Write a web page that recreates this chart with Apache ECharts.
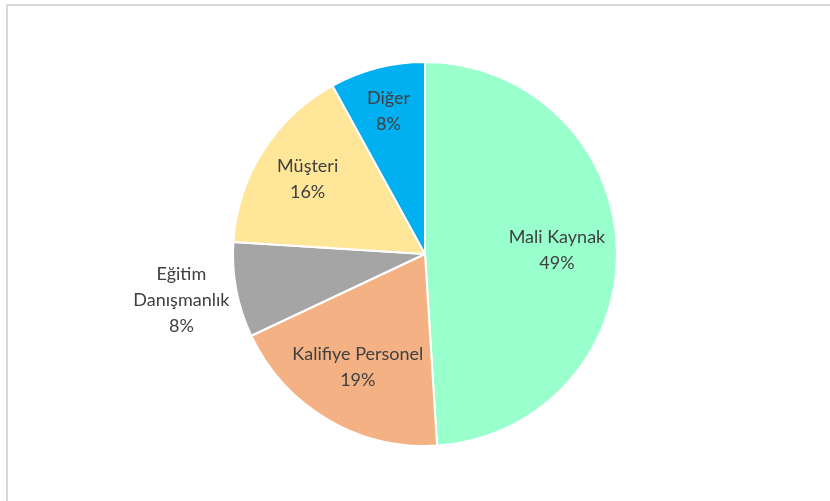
<!DOCTYPE html>
<html>
<head>
<meta charset="utf-8">
<script src="https://cdn.jsdelivr.net/npm/echarts@6/dist/echarts.min.js"></script>
<style>
    html, body { margin: 0; padding: 0; background: #fff; overflow: hidden; }
    #frame { position: absolute; left: 6px; top: 4px; width: 840px; height: 520px;
             border-top: 2px solid #d9d9d9; border-left: 2px solid #d9d9d9; }
    #chart { position: absolute; left: 0; top: 0; width: 830px; height: 501px; }
</style>
</head>
<body>
<div id="frame"></div>
<div id="chart"></div>
<script>
// data
var categories = ['Mali Kaynak', 'Kalifiye Personel', 'Eğitim\nDanışmanlık', 'Müşteri', 'Diğer'];
var values = [49, 19, 8, 16, 8];
var colors = ['#99ffcc', '#f4b183', '#a5a5a5', '#ffe699', '#00b0f0'];

!function(win){
    var chrt = echarts.init(document.getElementById('chart'));
    var center = [425, 254];

    function extend(a, b){
        for (var k in b) a[k] = b[k];
        return a;
    }

    var labelStyle = {
        color: '#404040',
        fontFamily: 'Lato, "Open Sans", sans-serif',
        fontSize: 18,
        lineHeight: 26,
        align: 'center',
        formatter: '{b}\n{d}%'
    };

    // transparent ring used only to place labels at a chosen distance
    function labelRing(r0, r1, shown){
        return {
            type: 'pie',
            center: center,
            radius: [r0, r1],
            startAngle: 90,
            silent: true,
            z: 3,
            itemStyle: { color: 'rgba(0,0,0,0)' },
            labelLine: { show: false },
            emphasis: { disabled: true },
            data: categories.map(function(name, i){
                return {
                    name: name,
                    value: values[i],
                    label: extend({ show: shown.indexOf(i) > -1, position: 'inside' }, labelStyle)
                };
            })
        };
    }

    var option = {
        animation: false,
        series: [
            {
                type: 'pie',
                center: center,
                radius: 192,
                startAngle: 90,
                clockwise: true,
                itemStyle: { borderColor: '#fff', borderWidth: 2 },
                label: { show: false },
                labelLine: { show: false },
                emphasis: { disabled: true },
                data: categories.map(function(name, i){
                    return { name: name, value: values[i], itemStyle: { color: colors[i] } };
                })
            },
            labelRing(90, 168, [0, 1]),
            labelRing(96, 176, [3]),
            labelRing(104, 184, [4]),
            labelRing(222, 268, [2])
        ]
    };
    chrt.setOption(option);
}(window);
</script>
</body>
</html>
